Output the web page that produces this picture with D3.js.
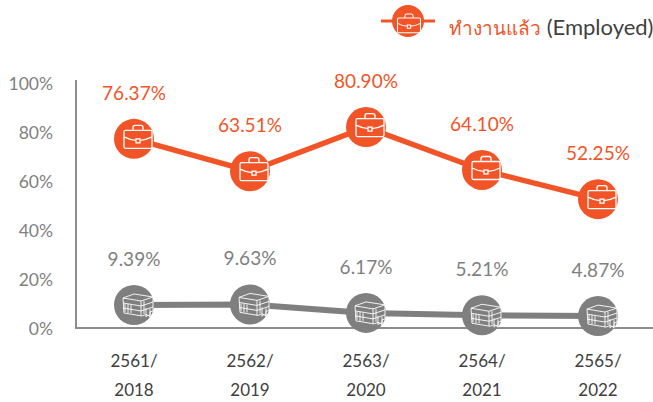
<!DOCTYPE html>
<html><head><meta charset="utf-8">
<script src="https://cdn.jsdelivr.net/npm/d3@7"></script>
<style>html,body{margin:0;padding:0;background:#fff;overflow:hidden}svg{display:block;font-family:Lato,"Noto Sans",sans-serif}</style>
</head><body><svg id="c" width="653" height="402"></svg>
<script>
const categories = ["2561/|2018","2562/|2019","2563/|2020","2564/|2021","2565/|2022"];
const employedLabels = ["76.37%","63.51%","80.90%","64.10%","52.25%"];
const employedValues = [77.2,64,82,64.5,52.6];
const otherLabels = ["9.39%","9.63%","6.17%","5.21%","4.87%"];
const otherValues = [9.39,9.63,6.17,5.21,4.87];
const yTicks = [0,20,40,60,80,100];
const ORANGE="#f15527", GRAY="#7f7f7f";
const svg=d3.select("#c");
const x=d3.scalePoint().domain(categories).range([134,598]);
const y=d3.scaleLinear().domain([0,100]).range([328,83]);
const line=d3.line().x((d,i)=>x(categories[i])).y(d=>y(d));

function briefcase(g,s,dx,dy){
  g=g.attr("transform",`${g.attr("transform")||""} translate(${dx},${dy}) scale(${s})`).attr("fill","none").attr("stroke","#fff").attr("stroke-width",1.3);
  g.append("rect").attr("x",-14).attr("y",-8.5).attr("width",28).attr("height",18).attr("rx",1.5);
  g.append("path").attr("d","M-5,-8.5 V-11 Q-5,-13.5 -3,-13.5 H3 Q5,-13.5 5,-11 V-8.5");
  g.append("path").attr("d","M-14,-2 Q-8,1 -2,1.5 M14,-2 Q8,1 2,1.5");
  g.append("rect").attr("x",-2).attr("y",0).attr("width",4).attr("height",4);
}
function books(g,s,dx,dy){
  g=g.attr("transform",`${g.attr("transform")||""} translate(${dx},${dy}) scale(${s})`).attr("fill","none").attr("stroke","#fff").attr("stroke-width",.9);
  g.append("path").attr("d","M-15,-7 L-4,-11 L15,-8 L15,6 L12,7 V11 L8,9.5 L4,11 L-14,8 Z");
  g.append("path").attr("d","M-15,-7 L3,-4 L15,-8 M3,-4 V11 M-15,-2 L3,1 L15,-3 M-15,3 L3,6 L15,2");
  g.append("path").attr("d","M-13,-1 V7 M-10,-1 V8 M-7,0 V8 M6,-4 V9 M8,3 V12 L10,10 L12,12 V4");
}
// axes
svg.append("path").attr("d",`M76,80 V${y(0)} H653`).attr("fill","none").attr("stroke","#8c8c8c").attr("stroke-width",2);
const axisG=svg.append("g");
axisG.selectAll("text").data(yTicks).join("text").attr("x",53).attr("y",d=>y(d)+7)
  .attr("text-anchor","end").attr("font-size",17.5).attr("fill",GRAY).text(d=>d+"%");
const xl=svg.append("g").selectAll("g").data(categories).join("g");
xl.append("text").attr("x",d=>x(d)).attr("y",367).attr("text-anchor","middle").attr("font-size",17).attr("fill","#404040").text(d=>d.split("|")[0]);
xl.append("text").attr("x",d=>x(d)).attr("y",396).attr("text-anchor","middle").attr("font-size",17).attr("fill","#404040").text(d=>d.split("|")[1]);

function series(vals,labels,color,icon,width){
  svg.append("path").attr("d",line(vals)).attr("fill","none").attr("stroke",color).attr("stroke-width",width);
  const m=svg.append("g").selectAll("g").data(vals).join("g").attr("transform",(d,i)=>`translate(${x(categories[i])},${y(d)})`);
  m.append("circle").attr("r",20).attr("fill",color);
  m.append("g").each(function(){icon(d3.select(this),1,4,0)});
  svg.append("g").selectAll("text").data(vals).join("text")
    .attr("x",(d,i)=>x(categories[i])).attr("y",d=>y(d)-39).attr("text-anchor","middle")
    .attr("font-size",19).attr("fill",color).text((d,i)=>labels[i]);
}
series(otherValues,otherLabels,GRAY,books,6);
series(employedValues,employedLabels,ORANGE,briefcase,5.5);

// legend
const lg=svg.append("g");
lg.append("line").attr("x1",381).attr("x2",435).attr("y1",21).attr("y2",21).attr("stroke",ORANGE).attr("stroke-width",3);
lg.append("circle").attr("cx",408).attr("cy",21).attr("r",16).attr("fill",ORANGE);
briefcase(lg.append("g").attr("transform","translate(408,21)"),0.82,1,4);
const t=lg.append("text").attr("x",449).attr("y",35);
t.append("tspan").attr("fill",ORANGE).attr("font-size",19).text("ทำงานแล้ว");
t.append("tspan").attr("fill","#404040").attr("font-size",22).text(" (Employed)");
</script></body></html>
